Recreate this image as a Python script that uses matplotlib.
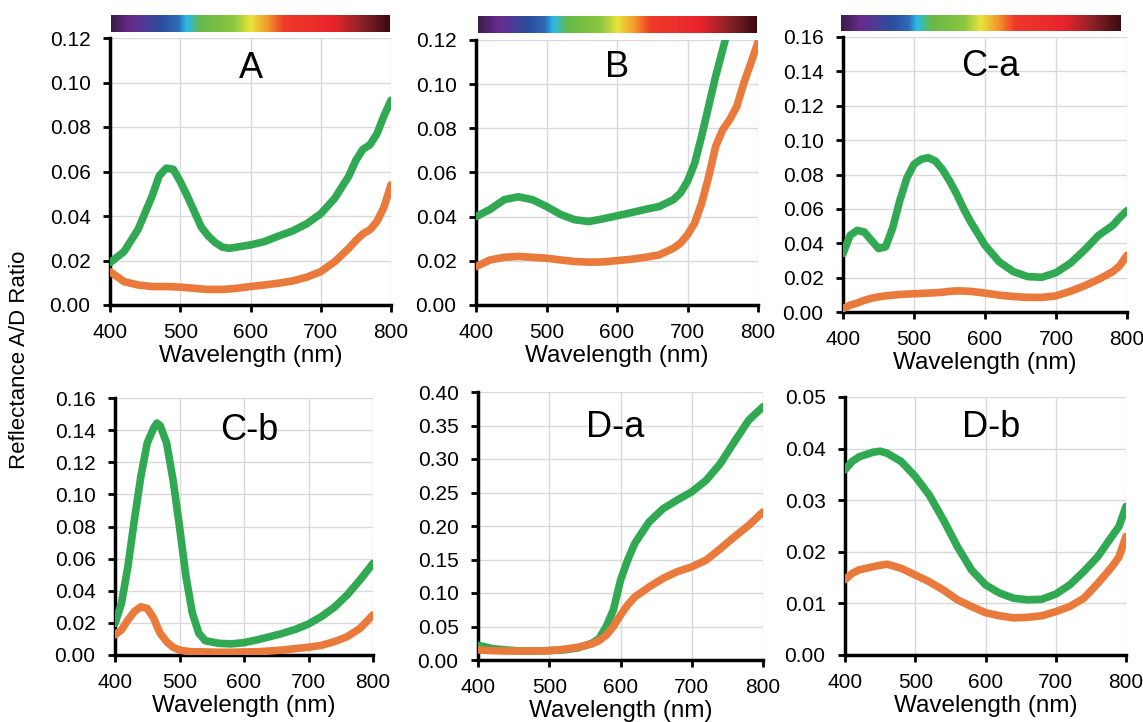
import matplotlib

matplotlib.use("Agg")
import matplotlib.pyplot as plt
import numpy as np
from matplotlib.colors import LinearSegmentedColormap

plt.rcParams["font.family"] = ["Liberation Sans", "DejaVu Sans"]

GREEN = "#30a952"
ORANGE = "#e97a3c"

# --- data (wavelength in nm, reflectance A/D ratio) ---
wl_A = [400, 420, 440, 460, 470, 480, 490, 500, 510, 520, 530, 540, 550, 560, 570,
        580, 600, 620, 640, 660, 680, 700, 720, 740, 750, 760, 770, 780, 790, 800]
green_A = [0.019, 0.024, 0.034, 0.049, 0.058, 0.0615, 0.061, 0.0555, 0.049, 0.042,
           0.035, 0.031, 0.028, 0.026, 0.0255, 0.026, 0.027, 0.0285, 0.031, 0.0333,
           0.0365, 0.041, 0.048, 0.058, 0.065, 0.070, 0.072, 0.077, 0.085, 0.092]
orange_A = [0.015, 0.0105, 0.009, 0.0083, 0.0083, 0.0083, 0.0082, 0.008, 0.0078, 0.0075,
            0.0072, 0.007, 0.007, 0.007, 0.0072, 0.0075, 0.0083, 0.009, 0.0098, 0.0108,
            0.0125, 0.015, 0.0195, 0.0255, 0.029, 0.032, 0.0338, 0.0375, 0.044, 0.054]

wl_B = [400, 420, 440, 460, 480, 500, 520, 540, 560, 580, 600, 620, 640, 660, 680,
        690, 700, 710, 720, 730, 740, 750, 760, 770, 780, 790, 800]
green_B = [0.040, 0.0433, 0.0477, 0.049, 0.0477, 0.0446, 0.041, 0.0386, 0.0378, 0.039,
           0.0404, 0.0418, 0.0433, 0.0446, 0.0477, 0.0507, 0.056, 0.064, 0.0764, 0.090,
           0.1036, 0.1157, 0.128, 0.140, 0.152, 0.163, 0.175]
orange_B = [0.0174, 0.0204, 0.0216, 0.022, 0.0216, 0.0212, 0.0204, 0.0197, 0.0194, 0.0195,
            0.0201, 0.0207, 0.0216, 0.0227, 0.0257, 0.028, 0.0318, 0.037, 0.046, 0.058,
            0.0719, 0.0794, 0.084, 0.090, 0.1006, 0.1097, 0.119]

wl_Ca = [400, 410, 420, 430, 440, 450, 460, 470, 480, 490, 500, 510, 520, 530, 540, 550,
         560, 570, 580, 590, 600, 620, 640, 660, 680, 700, 720, 740, 760, 780, 790, 800]
green_Ca = [0.034, 0.0446, 0.0475, 0.0465, 0.0417, 0.0369, 0.0379, 0.049, 0.0648, 0.078,
            0.086, 0.0888, 0.0898, 0.0879, 0.083, 0.0763, 0.0687, 0.060, 0.0523, 0.0456,
            0.0388, 0.0292, 0.0235, 0.0206, 0.0202, 0.0229, 0.0283, 0.036, 0.0446, 0.0504,
            0.055, 0.059]
orange_Ca = [0.002, 0.004, 0.0052, 0.0068, 0.008, 0.0088, 0.0094, 0.0098, 0.0102, 0.0104,
             0.0106, 0.0108, 0.011, 0.0112, 0.0115, 0.012, 0.0123, 0.0122, 0.012, 0.0115,
             0.011, 0.0098, 0.009, 0.0085, 0.0085, 0.0094, 0.012, 0.0152, 0.019, 0.0235,
             0.027, 0.033]

wl_Cb = [400, 410, 420, 430, 440, 450, 460, 465, 470, 480, 490, 500, 510, 520, 530, 540,
         560, 580, 600, 620, 640, 660, 680, 700, 720, 740, 760, 780, 800]
green_Cb = [0.0197, 0.032, 0.055, 0.084, 0.111, 0.132, 0.1413, 0.1444, 0.1428, 0.132,
            0.109, 0.080, 0.0488, 0.026, 0.0135, 0.0089, 0.0073, 0.0069, 0.0077, 0.0094,
            0.0114, 0.0135, 0.016, 0.0193, 0.0239, 0.0297, 0.0374, 0.0468, 0.057]
orange_Cb = [0.0125, 0.0156, 0.0218, 0.027, 0.030, 0.029, 0.0229, 0.018, 0.0135, 0.0083,
             0.0048, 0.0031, 0.0024, 0.002, 0.002, 0.0019, 0.0017, 0.0017, 0.0019, 0.002,
             0.0025, 0.0031, 0.004, 0.0048, 0.006, 0.0083, 0.0114, 0.0166, 0.025]

wl_Da = [400, 420, 440, 460, 480, 500, 520, 540, 560, 570, 580, 590, 600, 610, 620, 640,
         660, 680, 700, 720, 740, 760, 780, 790, 800]
green_Da = [0.022, 0.017, 0.015, 0.0134, 0.0134, 0.014, 0.015, 0.018, 0.025, 0.032, 0.050,
            0.0746, 0.119, 0.149, 0.174, 0.206, 0.226, 0.239, 0.251, 0.268, 0.293, 0.326,
            0.358, 0.368, 0.378]
orange_Da = [0.015, 0.014, 0.0134, 0.0134, 0.0134, 0.014, 0.016, 0.019, 0.024, 0.029, 0.037,
             0.050, 0.067, 0.082, 0.094, 0.109, 0.122, 0.132, 0.139, 0.149, 0.166, 0.184,
             0.201, 0.211, 0.221]

wl_Db = [400, 410, 420, 440, 450, 460, 480, 500, 520, 540, 560, 580, 600, 620, 640, 660,
         680, 700, 720, 740, 760, 780, 790, 800]
green_Db = [0.0359, 0.0375, 0.0384, 0.0393, 0.0395, 0.0391, 0.0375, 0.0346, 0.031, 0.0262,
            0.021, 0.0165, 0.0136, 0.012, 0.011, 0.0107, 0.0108, 0.0118, 0.0136, 0.0162,
            0.0191, 0.023, 0.0249, 0.0288]
orange_Db = [0.0146, 0.0158, 0.0165, 0.0171, 0.0174, 0.0176, 0.0168, 0.0155, 0.0142, 0.0126,
             0.0107, 0.0094, 0.0082, 0.0076, 0.0072, 0.0073, 0.0076, 0.0084, 0.0094, 0.011,
             0.0139, 0.0171, 0.019, 0.023]

panel_names = ["A", "B", "C-a", "C-b", "D-a", "D-b"]
y_max = [0.12, 0.12, 0.16, 0.16, 0.40, 0.05]
y_step = [0.02, 0.02, 0.02, 0.02, 0.05, 0.01]
x_ticks = [400, 500, 600, 700, 800]

series = [
    (wl_A, green_A, orange_A),
    (wl_B, green_B, orange_B),
    (wl_Ca, green_Ca, orange_Ca),
    (wl_Cb, green_Cb, orange_Cb),
    (wl_Da, green_Da, orange_Da),
    (wl_Db, green_Db, orange_Db),
]

# axes rectangles in pixels: left, right, top, bottom (of a 1143x722 canvas)
W, H = 1143, 722
boxes = [
    (110, 391, 38, 305),
    (476, 758, 40, 305),
    (843, 1127, 37, 312),
    (115, 373, 398, 655),
    (478, 763, 392, 660),
    (845, 1126, 397, 655),
]
title_pos = [(0.50, 0.85), (0.50, 0.86), (0.52, 0.858), (0.52, 0.837), (0.48, 0.832), (0.52, 0.845)]
# spectrum strips above the top row
strips = [(111, 390, 15, 32), (478, 757, 16, 33), (841, 1121, 15, 31)]

spectrum = LinearSegmentedColormap.from_list(
    "spectrum",
    [
        (0.00, "#3a1e4a"),
        (0.07, "#6a2a8e"),
        (0.18, "#2a4f9e"),
        (0.24, "#2e6ab8"),
        (0.27, "#2bbbe8"),
        (0.32, "#66b848"),
        (0.44, "#8cc63f"),
        (0.50, "#e8e43a"),
        (0.56, "#f49a2c"),
        (0.62, "#ee3a2a"),
        (0.80, "#e8242a"),
        (0.90, "#8a2228"),
        (1.00, "#3a0c10"),
    ],
)


def px_rect(l, r, t, b):
    return [l / W, (H - b) / H, (r - l) / W, (b - t) / H]


fig = plt.figure(figsize=(W / 100, H / 100), dpi=100)

for i, name in enumerate(panel_names):
    ax = fig.add_axes(px_rect(*boxes[i]))
    wl, g, o = series[i]
    ax.plot(wl, g, color=GREEN, lw=5.5, solid_capstyle="round", zorder=3)
    ax.plot(wl, o, color=ORANGE, lw=5.5, solid_capstyle="round", zorder=3)

    ax.set_xlim(400, 800)
    ax.set_ylim(0, y_max[i])
    yt = np.arange(0, y_max[i] + y_step[i] / 2, y_step[i])
    ax.set_yticks(yt)
    ax.set_yticklabels([f"{v:.2f}" for v in yt])
    ax.set_xticks(x_ticks)
    ax.grid(True, color="#d9d9d9", lw=1.0, zorder=0)
    ax.set_axisbelow(True)
    for s in ("top", "right"):
        ax.spines[s].set_visible(False)
    for s in ("left", "bottom"):
        ax.spines[s].set_linewidth(2.5)
        ax.spines[s].set_color("black")
    ax.tick_params(axis="both", labelsize=15, length=5, width=2)
    ax.tick_params(axis="y", pad=9)
    ax.tick_params(axis="x", pad=8)
    ax.set_xlabel("Wavelength (nm)", fontsize=17.5, labelpad=2)
    ax.text(title_pos[i][0], title_pos[i][1], name, transform=ax.transAxes,
            ha="center", va="baseline", fontsize=26)

gradient = np.linspace(0, 1, 256).reshape(1, -1)
for l, r, t, b in strips:
    cax = fig.add_axes(px_rect(l, r, t, b))
    cax.imshow(gradient, aspect="auto", cmap=spectrum)
    cax.set_axis_off()

fig.text(20 / W, 1 - 360 / H, "Reflectance A/D Ratio", rotation=90,
         ha="center", va="center", fontsize=16)

fig.savefig("out.png", dpi=100)
